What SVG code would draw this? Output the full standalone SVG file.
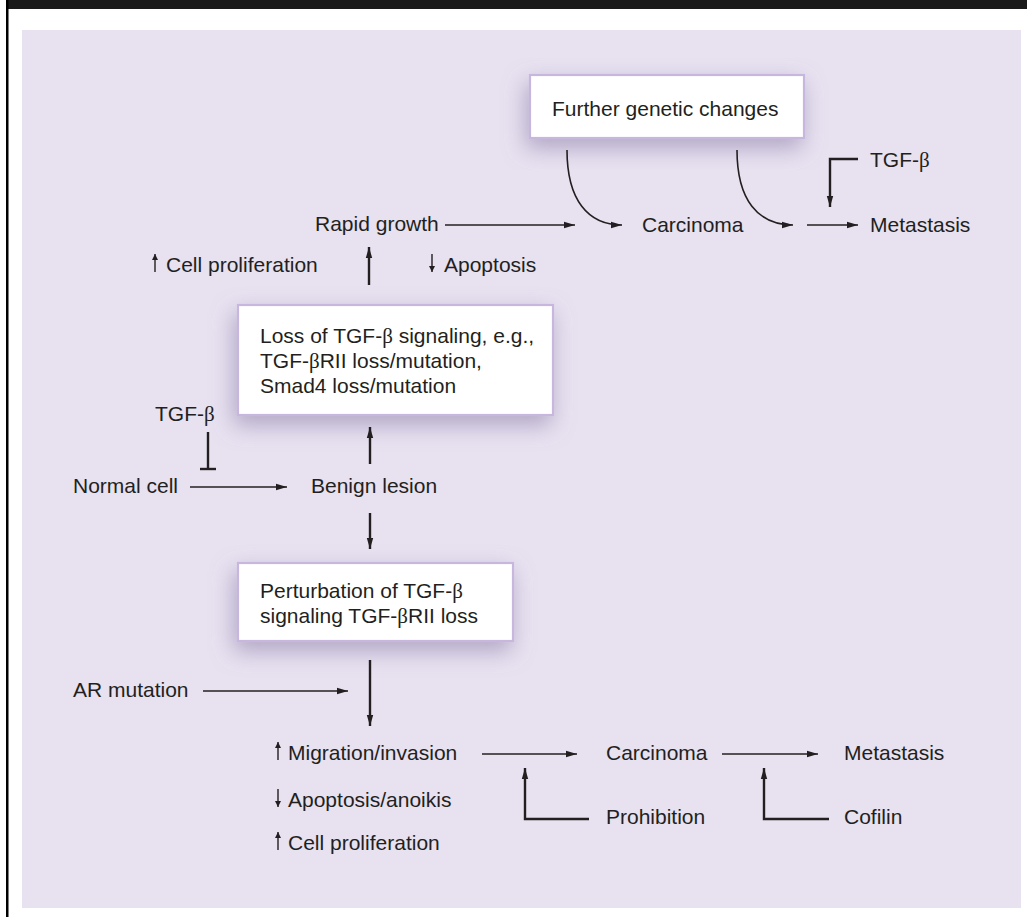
<svg xmlns="http://www.w3.org/2000/svg" width="1027" height="917" viewBox="0 0 1027 917">
<defs>
<style>
text{font-family:"Liberation Sans",Arial,sans-serif;font-size:21px;fill:#231f20}
.b{font-family:"Liberation Serif","DejaVu Serif",serif}
.ln{fill:none;stroke:#231f20;stroke-width:1.6}
.tk{fill:none;stroke:#231f20;stroke-width:2.4}
.sm{fill:none;stroke:#231f20;stroke-width:1.4}
.box{fill:#ffffff;stroke:#c7b7de;stroke-width:2.2}
</style>
<marker id="ah" markerUnits="userSpaceOnUse" markerWidth="12" markerHeight="8" refX="11" refY="4" orient="auto">
<path d="M0,0.8 L11,4 L0,7.2 z" fill="#231f20"/>
</marker>
<marker id="as" markerUnits="userSpaceOnUse" markerWidth="8" markerHeight="6" refX="6" refY="3" orient="auto">
<path d="M0,0 L6,3 L0,6 z" fill="#231f20"/>
</marker>
<filter id="sh" x="-25%" y="-40%" width="150%" height="190%">
<feGaussianBlur in="SourceAlpha" stdDeviation="11"/>
<feOffset dx="-3" dy="9" result="o"/>
<feFlood flood-color="#8d7fa8" flood-opacity="0.6"/>
<feComposite in2="o" operator="in"/>
<feMerge><feMergeNode/><feMergeNode in="SourceGraphic"/></feMerge>
</filter>
</defs>
<rect x="0" y="0" width="1027" height="917" fill="#ffffff"/>
<rect x="7" y="0" width="1020" height="9" fill="#1a1a1a"/>
<rect x="6" y="0" width="2.5" height="917" fill="#000000"/>
<rect x="22" y="30" width="999" height="878" fill="#e7e1f0"/>

<g id="box-further">
<rect class="box" x="530" y="75" width="274" height="63" filter="url(#sh)"/>
<text x="552" y="116">Further genetic changes</text>
</g>
<g id="box-loss">
<rect class="box" x="238" y="305" width="315" height="110" filter="url(#sh)"/>
<text x="260" y="343">Loss of TGF-<tspan class="b">β</tspan> signaling, e.g.,</text>
<text x="260" y="368">TGF-<tspan class="b">β</tspan>RII loss/mutation,</text>
<text x="260" y="393">Smad4 loss/mutation</text>
</g>
<g id="box-perturb">
<rect class="box" x="238" y="563" width="275" height="78" filter="url(#sh)"/>
<text x="260" y="598">Perturbation of TGF-<tspan class="b">β</tspan></text>
<text x="260" y="623">signaling TGF-<tspan class="b">β</tspan>RII loss</text>
</g>

<g id="n-rapid"><text x="315" y="231">Rapid growth</text></g>
<g id="n-carc1"><text x="642" y="232">Carcinoma</text></g>
<g id="n-meta1"><text x="870" y="232">Metastasis</text></g>
<g id="n-tgf1"><text x="870" y="167">TGF-<tspan class="b">β</tspan></text></g>
<g id="n-cellprol1"><text x="166" y="272">Cell proliferation</text></g>
<g id="n-apop1"><text x="444" y="272">Apoptosis</text></g>
<g id="n-tgf2"><text x="155" y="421">TGF-<tspan class="b">β</tspan></text></g>
<g id="n-normal"><text x="73" y="493">Normal cell</text></g>
<g id="n-benign"><text x="311" y="493">Benign lesion</text></g>
<g id="n-ar"><text x="73" y="697">AR mutation</text></g>
<g id="n-mig"><text x="288" y="760">Migration/invasion</text></g>
<g id="n-apop2"><text x="288" y="807">Apoptosis/anoikis</text></g>
<g id="n-cellprol2"><text x="288" y="850">Cell proliferation</text></g>
<g id="n-carc2"><text x="606" y="760">Carcinoma</text></g>
<g id="n-meta2"><text x="844" y="760">Metastasis</text></g>
<g id="n-prohib"><text x="606" y="824">Prohibition</text></g>
<g id="n-cofilin"><text x="844" y="824">Cofilin</text></g>

<g id="connectors">
<line class="ln" x1="445" y1="225" x2="575" y2="225" marker-end="url(#ah)"/>
<path class="ln" d="M567,150 C567,200 588,225 622,225" marker-end="url(#ah)"/>
<path class="ln" d="M737,150 C737,200 758,225 793,225" marker-end="url(#ah)"/>
<line class="ln" x1="807" y1="225" x2="858" y2="225" marker-end="url(#ah)"/>
<polyline class="tk" points="858,159 830,159 830,207" marker-end="url(#ah)"/>
<line class="tk" x1="369" y1="285" x2="369" y2="247" marker-end="url(#ah)"/>
<line class="sm" x1="155" y1="272" x2="155" y2="254" marker-end="url(#as)"/>
<line class="sm" x1="432" y1="254" x2="432" y2="272" marker-end="url(#as)"/>
<line class="tk" x1="208" y1="432" x2="208" y2="469"/>
<line class="tk" x1="200" y1="469" x2="216" y2="469"/>
<line class="ln" x1="190" y1="487" x2="287" y2="487" marker-end="url(#ah)"/>
<line class="tk" x1="370" y1="464" x2="370" y2="427" marker-end="url(#ah)"/>
<line class="tk" x1="370" y1="513" x2="370" y2="549" marker-end="url(#ah)"/>
<line class="tk" x1="370" y1="660" x2="370" y2="726" marker-end="url(#ah)"/>
<line class="ln" x1="203" y1="691" x2="348" y2="691" marker-end="url(#ah)"/>
<line class="sm" x1="278" y1="760" x2="278" y2="742" marker-end="url(#as)"/>
<line class="sm" x1="278" y1="789" x2="278" y2="807" marker-end="url(#as)"/>
<line class="sm" x1="278" y1="850" x2="278" y2="832" marker-end="url(#as)"/>
<line class="ln" x1="482" y1="754" x2="577" y2="754" marker-end="url(#ah)"/>
<line class="ln" x1="722" y1="754" x2="818" y2="754" marker-end="url(#ah)"/>
<polyline class="tk" points="589,819 525,819 525,768" marker-end="url(#ah)"/>
<polyline class="tk" points="829,819 764,819 764,768" marker-end="url(#ah)"/>
</g>
</svg>
